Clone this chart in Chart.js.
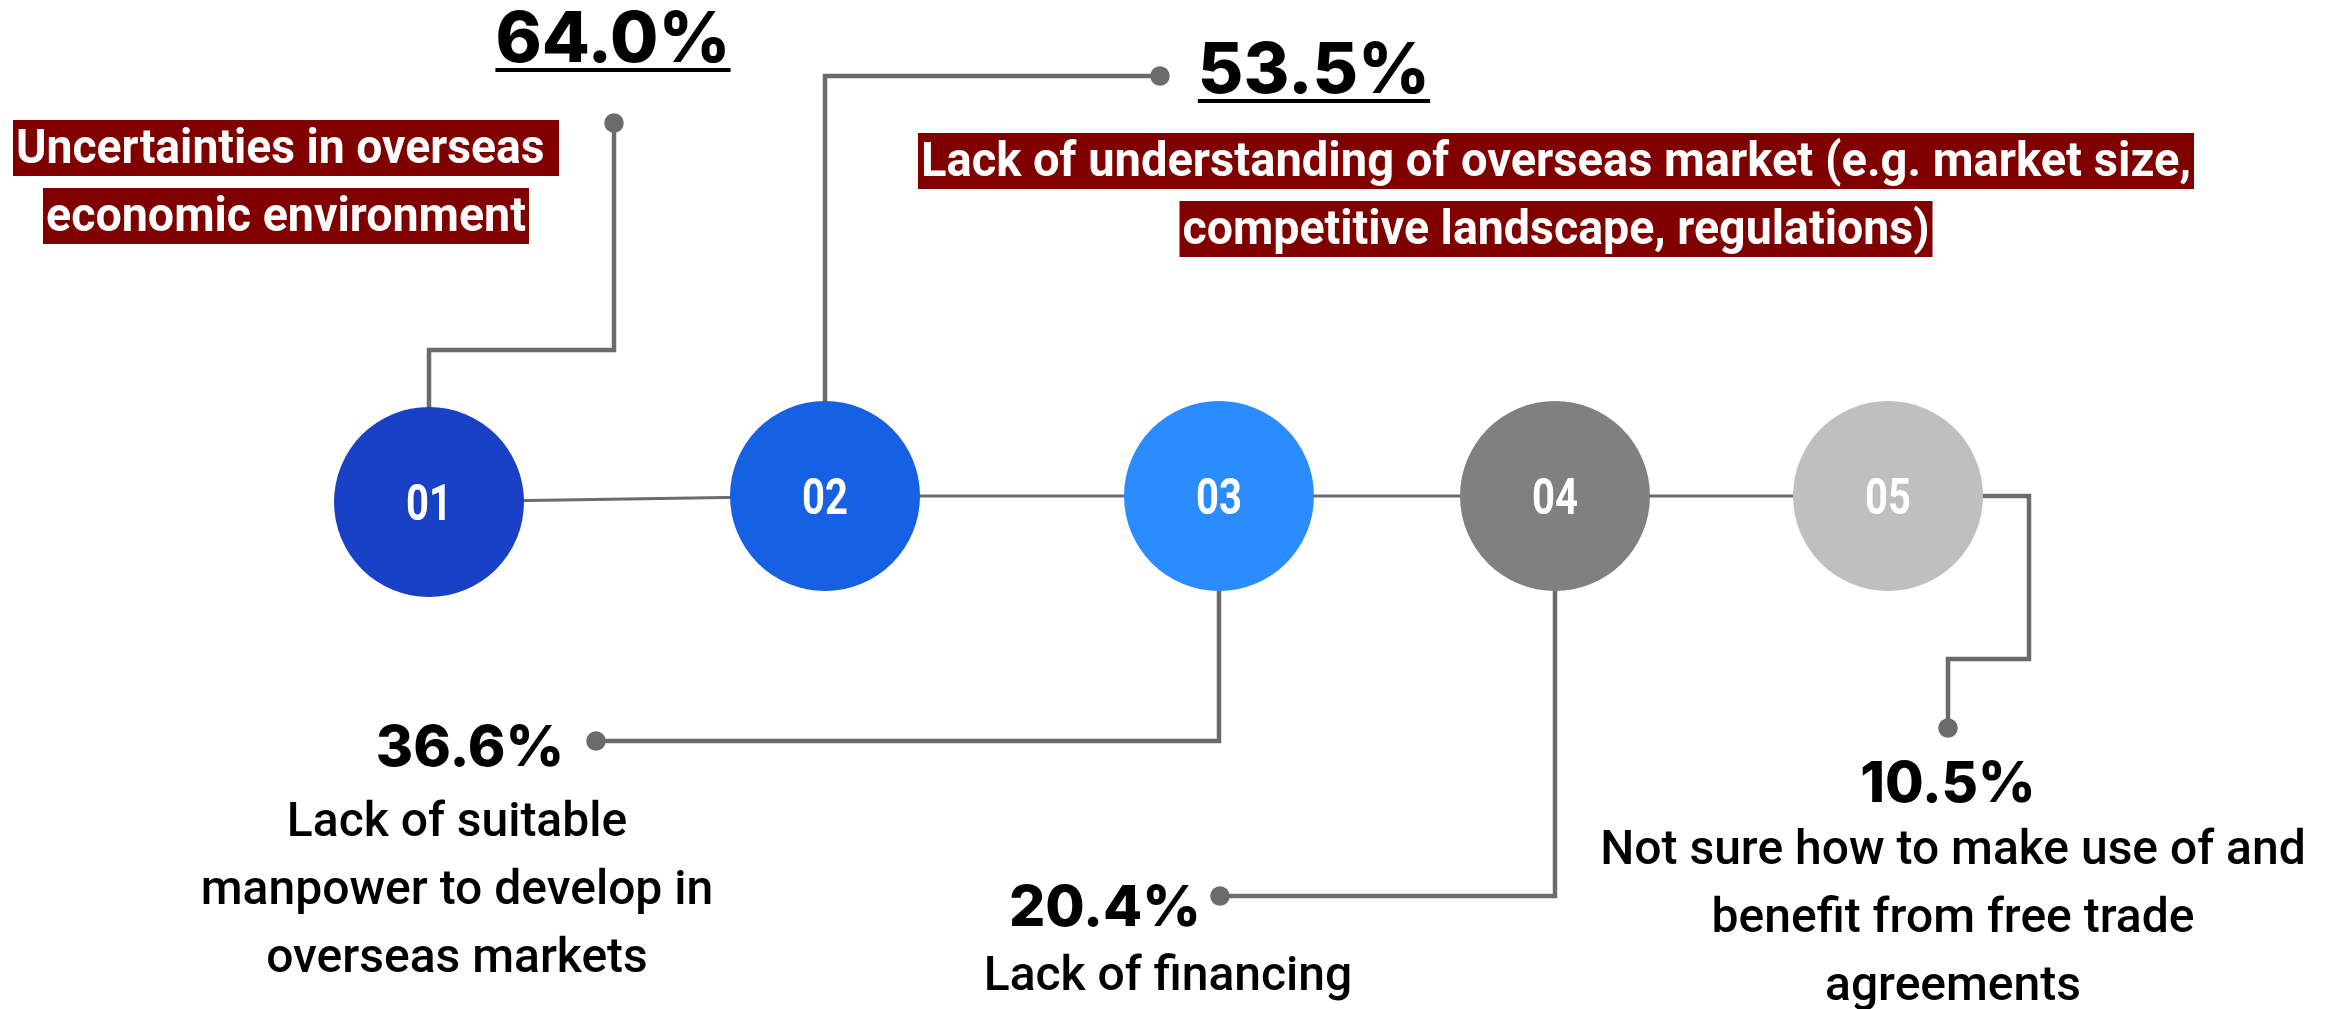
<!DOCTYPE html>
<html>
<head>
<meta charset="utf-8">
<script src="https://cdn.jsdelivr.net/npm/chart.js@4.4.0/dist/chart.umd.min.js"></script>
<style>
  html, body { margin: 0; padding: 0; background: #fff; overflow: hidden; }
  #wrap { width: 2326px; height: 1009px; }
</style>
</head>
<body>
<div id="wrap"><canvas id="chart" width="2326" height="1009"></canvas></div>
<script>
// survey data: share of firms citing each barrier
const steps = ['01', '02', '03', '04', '05'];
const shares = [64.0, 53.5, 36.6, 20.4, 10.5];
const barriers = [
  ['Uncertainties in overseas ', 'economic environment'],
  ['Lack of understanding of overseas market (e.g. market size,', 'competitive landscape, regulations)'],
  ['Lack of suitable', 'manpower to develop in', 'overseas markets'],
  ['Lack of financing'],
  ['Not sure how to make use of and', 'benefit from free trade', 'agreements']
];

// look
const stepColors = ['#1941c5', '#1660e4', '#2b8cff', '#808080', '#bfbfbf'];
const LINE = '#6b6b6b';
const HILITE = '#800000';
const NODE_R = 95;

// layout, in axis units (x 0..2326, y 0..1009 downwards)
const nodeX = [429, 825, 1219, 1555, 1888];
const nodeY = [502, 496, 496, 496, 496];
// elbow points of each leader, after the node centre; the last one carries the dot
const elbows = [
  [[429, 350], [614, 350], [614, 123]],
  [[825, 76], [1160, 76]],
  [[1219, 741], [596, 741]],
  [[1555, 896], [1220, 896]],
  [[2029, 496], [2029, 659], [1948, 659], [1948, 728]]
];
// where the value and the description go
const valuePos = [[613, 62], [1314, 93], [470, 766], [1105, 926], [1948, 802]];
const valueSize = [70, 70, 57, 57, 56];
const descPos = [[286, 163], [1556, 176], [457, 836], [1168, 990], [1953, 864]];
const highlighted = [true, true, false, false, false];
// text widths of the highlighted lines
const fitWidth = [[540, 480], [1270, 747]];

const leaderSets = elbows.map((pts, i) => {
  const path = [[nodeX[i], nodeY[i]], ...pts].map(([x, y]) => ({ x, y }));
  return {
    type: 'scatter',
    data: path,
    showLine: true,
    borderColor: LINE,
    borderWidth: 4.5,
    borderJoinStyle: 'miter',
    backgroundColor: LINE,
    pointRadius: ctx => ctx.dataIndex === path.length - 1 ? 7.5 : 0,
    pointHoverRadius: 0,
    order: 2
  };
});

const timeline = {
  type: 'scatter',
  data: nodeX.map((x, i) => ({ x, y: nodeY[i] })),
  showLine: true,
  borderColor: LINE,
  borderWidth: 3,
  pointRadius: 0,
  order: 3
};

const nodes = {
  type: 'scatter',
  data: nodeX.map((x, i) => ({ x, y: nodeY[i] })),
  backgroundColor: stepColors,
  borderWidth: 0,
  pointRadius: NODE_R,
  pointHoverRadius: NODE_R,
  order: 1
};

const labelPlugin = {
  id: 'stepLabels',
  afterDatasetsDraw(chart) {
    const { ctx, scales: { x, y } } = chart;
    const px = v => x.getPixelForValue(v);
    const py = v => y.getPixelForValue(v);
    ctx.save();
    ctx.textAlign = 'center';
    ctx.textBaseline = 'alphabetic';

    // step numbers inside the circles, narrowed
    steps.forEach((s, i) => {
      ctx.save();
      ctx.translate(px(nodeX[i]), py(nodeY[i]) + 18);
      ctx.scale(0.8, 1);
      ctx.font = '700 50px Roboto';
      ctx.fillStyle = '#fff';
      ctx.fillText(s, 0, 0);
      ctx.restore();
    });

    // percentages
    shares.forEach((v, i) => {
      const [cx, cy] = valuePos[i];
      const txt = v.toFixed(1) + '%';
      ctx.font = `800 ${valueSize[i]}px Inter`;
      ctx.fillStyle = '#000';
      ctx.fillText(txt, px(cx), py(cy));
      if (highlighted[i]) {
        const w = ctx.measureText(txt).width;
        ctx.fillRect(px(cx) - w / 2, py(cy) + 6, w, 4);
      }
    });

    // descriptions
    barriers.forEach((lines, i) => {
      const [cx, cy] = descPos[i];
      if (highlighted[i]) {
        ctx.font = '700 48px Roboto';
        lines.forEach((t, k) => {
          const by = py(cy + k * 68);
          const w = fitWidth[i][k];
          const sx = w / ctx.measureText(t).width;
          ctx.fillStyle = HILITE;
          ctx.fillRect(px(cx) - w / 2 - 3, by - 43, w + 6, 56);
          ctx.save();
          ctx.translate(px(cx), by);
          ctx.scale(sx, 1);
          ctx.fillStyle = '#fff';
          ctx.fillText(t, 0, 0);
          ctx.restore();
        });
      } else {
        ctx.font = '500 48px Roboto';
        ctx.fillStyle = '#000';
        lines.forEach((t, k) => ctx.fillText(t, px(cx), py(cy + k * 68)));
      }
    });
    ctx.restore();
  }
};

new Chart(document.getElementById('chart'), {
  type: 'scatter',
  data: { datasets: [nodes, ...leaderSets, timeline] },
  options: {
    responsive: false,
    devicePixelRatio: 1,
    animation: false,
    layout: { padding: 0, autoPadding: false },
    plugins: { legend: { display: false }, tooltip: { enabled: false } },
    scales: {
      x: { type: 'linear', min: 0, max: 2326, display: false },
      y: { type: 'linear', min: 0, max: 1009, reverse: true, display: false }
    }
  },
  plugins: [labelPlugin]
});
</script>
</body>
</html>
